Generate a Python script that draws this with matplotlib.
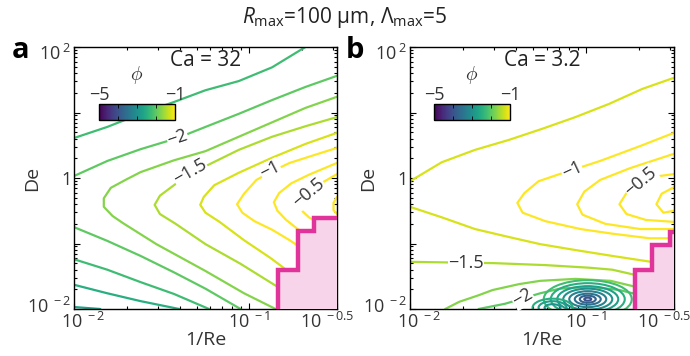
import numpy as np
import matplotlib
matplotlib.use("Agg")
import matplotlib.pyplot as plt
from matplotlib import ticker, colors, transforms
from matplotlib.collections import EllipseCollection
from matplotlib.cm import ScalarMappable

plt.rcParams['font.family'] = ['Open Sans', 'DejaVu Sans']
plt.rcParams['mathtext.fontset'] = 'custom'
plt.rcParams['mathtext.rm'] = 'Open Sans'
plt.rcParams['mathtext.it'] = 'Open Sans:italic'
plt.rcParams['mathtext.bf'] = 'Open Sans:bold'

# ---- contour lines, as log10(1/Re), log10(De) ----
# panel a (Ca = 32)
a_m275 = (-2.75, [-2.00, -1.85], [-1.97, -2.00])
a_m250 = (-2.50, [-2.00, -1.81, -1.62, -1.40], [-1.63, -1.76, -1.88, -2.00])
a_m225_up = (-2.25, [-2.00, -1.81, -1.62, -1.43, -1.25, -1.06, -0.87, -0.68],
             [0.61, 0.78, 0.98, 1.16, 1.34, 1.48, 1.69, 2.00])
a_m225_lo = (-2.25, [-2.00, -1.81, -1.62, -1.43, -1.23], [-1.24, -1.40, -1.59, -1.77, -2.00])
a_m200_up = (-2.00, [-2.00, -1.81, -1.62, -1.41, -1.25, -1.06, -0.87, -0.68, -0.50],
             [0.03, 0.26, 0.44, 0.61, 0.78, 0.98, 1.19, 1.39, 1.56])
a_m200_lo = (-2.00, [-2.00, -1.81, -1.62, -1.43, -1.25, -1.05], [-0.75, -0.96, -1.19, -1.44, -1.69, -2.00])
a_m175 = (-1.75, [-0.50, -0.68, -0.87, -1.06, -1.25, -1.43, -1.62, -1.70, -1.79, -1.83, -1.83, -1.78,
                  -1.72, -1.53, -1.25, -1.03, -0.85],
          [1.24, 1.07, 0.85, 0.63, 0.41, 0.27, 0.09, -0.02, -0.15, -0.31, -0.44, -0.58,
           -0.69, -1.01, -1.42, -1.76, -2.00])
a_m150 = (-1.50, [-0.50, -0.68, -0.87, -1.06, -1.25, -1.33, -1.42, -1.51, -1.54, -1.51, -1.42, -1.25,
                  -1.05, -0.84],
          [0.93, 0.79, 0.63, 0.43, 0.18, 0.08, -0.09, -0.27, -0.41, -0.55, -0.70, -1.01, -1.31, -1.66])
a_m125 = (-1.25, [-0.50, -0.68, -0.87, -1.06, -1.20, -1.26, -1.28, -1.25, -1.17, -1.03, -0.88, -0.79],
          [0.69, 0.52, 0.31, 0.08, -0.11, -0.29, -0.41, -0.53, -0.67, -0.95, -1.22, -1.40])
a_m100 = (-1.00, [-0.50, -0.63, -0.77, -0.88, -0.96, -1.03, -1.07, -1.04, -0.97, -0.87, -0.77, -0.72],
          [0.46, 0.35, 0.23, 0.09, -0.03, -0.24, -0.40, -0.53, -0.66, -0.79, -0.95, -1.04])
a_m075 = (-0.75, [-0.50, -0.66, -0.76, -0.83, -0.86, -0.84, -0.79, -0.71],
          [0.23, 0.05, -0.08, -0.23, -0.37, -0.50, -0.64, -0.81])
a_m050 = (-0.50, [-0.50, -0.59, -0.66, -0.71, -0.70, -0.66, -0.63],
          [0.06, -0.08, -0.23, -0.38, -0.50, -0.60, -0.65])
a_m025 = (-0.25, [-0.50, -0.52, -0.52, -0.50], [-0.29, -0.38, -0.49, -0.55])
a_lines = [a_m275, a_m250, a_m225_up, a_m225_lo, a_m200_up, a_m200_lo, a_m175,
           a_m150, a_m125, a_m100, a_m075, a_m050, a_m025]
a_labels = [("−2", -1.41, 0.61, 19), ("−1.5", -1.34, 0.10, 30),
            ("−1", -0.88, 0.12, 27), ("−0.5", -0.66, -0.23, 40)]

# panel b (Ca = 3.2)
b_m125_up = (-1.25, [-2.00, -1.82, -1.63, -1.44, -1.25, -1.06, -0.87, -0.68, -0.50],
             [-0.05, 0.24, 0.43, 0.58, 0.75, 0.93, 1.13, 1.36, 1.53])
b_m125_lo = (-1.25, [-2.00, -1.82, -1.63, -1.44, -1.26, -1.06, -0.85, -0.63],
             [-0.44, -0.60, -0.78, -0.90, -1.01, -1.10, -1.19, -1.28])
b_m150 = (-1.50, [-2.00, -1.52, -1.23, -0.98, -0.85, -0.72], [-1.28, -1.30, -1.33, -1.37, -1.40, -1.48])
b_m175 = (-1.75, [-1.80, -1.72, -1.61, -1.53, -1.38, -1.26, -1.06, -0.86, -0.72],
          [-2.00, -1.89, -1.79, -1.71, -1.62, -1.57, -1.54, -1.57, -1.66])
b_m200 = (-2.00, [-1.61, -1.46, -1.26, -1.15, -0.98, -0.81, -0.72],
          [-2.00, -1.92, -1.76, -1.69, -1.66, -1.71, -1.77])
b_m100 = (-1.00, [-0.50, -0.69, -0.92, -1.08, -1.15, -1.27, -1.35, -1.39, -1.36, -1.23, -1.03, -0.85,
                  -0.64, -0.52],
          [0.69, 0.49, 0.26, 0.12, 0.06, -0.05, -0.23, -0.38, -0.53, -0.66, -0.78, -0.85, -0.92, -0.92])
b_m075 = (-0.75, [-0.50, -0.75, -0.92, -1.01, -1.05, -1.02, -0.89, -0.69, -0.50],
          [0.37, 0.15, -0.03, -0.21, -0.40, -0.56, -0.70, -0.78, -0.78])
b_m050 = (-0.50, [-0.50, -0.61, -0.69, -0.77, -0.81, -0.77, -0.66, -0.50],
          [0.06, 0.02, -0.05, -0.23, -0.40, -0.55, -0.64, -0.67])
b_m025 = (-0.25, [-0.50, -0.57, -0.60, -0.56, -0.50], [-0.14, -0.24, -0.40, -0.53, -0.50])
b_lines = [b_m125_up, b_m125_lo, b_m150, b_m175, b_m200, b_m100, b_m075, b_m050, b_m025]
b_labels = [("−1.5", -1.68, -1.30, 0), ("−2", -1.36, -1.83, 30),
            ("−1", -1.08, 0.12, 25), ("−0.5", -0.69, -0.05, 40)]

# closed loops of the low-phi pocket in panel b: centre (log10), size (px), level
b_loop_lx = [-0.99] * 8 + [-1.19] * 3
b_loop_ly = [-1.85] * 8 + [-1.98] * 3
b_loop_w = [88, 74, 61, 49, 37, 26, 16, 7, 40, 28, 16]
b_loop_h = [38, 32, 26, 21, 16, 11, 7, 3, 18, 13, 7]
b_loop_lev = [-2.25, -2.5, -2.75, -3.0, -3.25, -3.5, -3.75, -4.0, -2.5, -2.75, -3.0]

# excluded (pink) staircase corners, actual 1/Re and De values
a_step_x = [0.145, 0.19, 0.235]
a_step_y = [0.04, 0.155, 0.245]
b_step_x = [0.19, 0.237, 0.30]
b_step_y = [0.04, 0.095, 0.15]

cmap = plt.get_cmap('viridis')
norm = colors.Normalize(vmin=-5, vmax=-1)
XMIN, XMAX, YMIN, YMAX = 1e-2, 10 ** -0.5, 1e-2, 1e2


def nudge(label, dx, dy, fig):
    label.set_transform(label.get_transform() +
                        transforms.ScaledTranslation(dx / 100, dy / 100, fig.dpi_scale_trans))


def style_axes(ax):
    ax.set_xscale('log')
    ax.set_yscale('log')
    ax.set_xlim(XMIN, XMAX)
    ax.set_ylim(YMIN, YMAX)
    ax.xaxis.set_major_locator(ticker.FixedLocator([1e-2, 1e-1, 10 ** -0.5]))
    ax.xaxis.set_major_formatter(ticker.FixedFormatter(
        [r'$10^{\;-2}$', r'$10^{\;-1}$', r'$10^{\;-0.5}$']))
    ax.xaxis.set_minor_locator(ticker.LogLocator(base=10, subs=np.arange(2, 10)))
    ax.xaxis.set_minor_formatter(ticker.NullFormatter())
    ax.yaxis.set_major_locator(ticker.FixedLocator([1e-2, 1e-1, 1, 10, 100]))
    ax.yaxis.set_major_formatter(ticker.FixedFormatter(
        [r'$10^{\;-2}$', '', '1', '', r'$10^{\;2}$']))
    ax.yaxis.set_minor_locator(ticker.LogLocator(base=10, subs=np.arange(2, 10)))
    ax.yaxis.set_minor_formatter(ticker.NullFormatter())
    ax.tick_params(which='both', direction='in', top=True, right=True, width=0.8,
                   labelsize=13, pad=2, labelcolor='#333333')
    ax.tick_params(which='major', length=4)
    ax.tick_params(which='minor', length=2)
    for s in ax.spines.values():
        s.set_linewidth(1.0)
    ax.set_xlabel('1/Re', fontsize=14, color='#333333')
    ax.set_ylabel('De', fontsize=14, color='#333333')
    ax.xaxis.set_label_coords(0.5, -0.085)
    ax.yaxis.set_label_coords(-0.125, 0.5)
    # edge tick labels sit inside the frame extent, as in the original
    xt = ax.xaxis.get_major_ticks()
    nudge(xt[0].label1, 9, 0, ax.figure)
    nudge(xt[-1].label1, -10, 0, ax.figure)
    yt = ax.yaxis.get_major_ticks()
    nudge(yt[0].label1, 0, 4, ax.figure)
    nudge(yt[-1].label1, 0, -5, ax.figure)


def draw_panel(ax, lines, labels, step_x, step_y, title):
    for lev, lx, ly in lines:
        ax.plot(10 ** np.array(lx), 10 ** np.array(ly), color=cmap(norm(lev)), lw=1.6,
                solid_capstyle='round', solid_joinstyle='round', zorder=2)
    for txt, lx, ly, rot in labels:
        ax.text(10 ** lx, 10 ** ly, txt, rotation=rot, ha='center', va='center',
                fontsize=13, color='#333333', zorder=3,
                bbox=dict(facecolor='white', edgecolor='none', pad=0.3))
    sx = [step_x[0], step_x[0], step_x[1], step_x[1], step_x[2], step_x[2], XMAX]
    sy = [YMIN, step_y[0], step_y[0], step_y[1], step_y[1], step_y[2], step_y[2]]
    ax.fill(sx + [XMAX], sy + [YMIN], facecolor='#f7d4e9', edgecolor='none', zorder=4)
    ax.plot(sx, sy, color='#e0349b', lw=3.2, solid_joinstyle='miter', zorder=5)
    ax.text(0.5, 0.95, title, transform=ax.transAxes, ha='center', va='center',
            fontsize=15, color='#222222', zorder=6)
    style_axes(ax)


fig = plt.figure(figsize=(6.9, 3.56), dpi=100)
ax_a = fig.add_axes([74 / 690, 47 / 356, 263 / 690, 262 / 356])
ax_b = fig.add_axes([410 / 690, 47 / 356, 264 / 690, 262 / 356])

draw_panel(ax_a, a_lines, a_labels, a_step_x, a_step_y, 'Ca = 32')
draw_panel(ax_b, b_lines, b_labels, b_step_x, b_step_y, 'Ca = 3.2')

loops = EllipseCollection(b_loop_w, b_loop_h, np.zeros(len(b_loop_w)), units='dots',
                          offsets=np.column_stack([10 ** np.array(b_loop_lx), 10 ** np.array(b_loop_ly)]),
                          offset_transform=ax_b.transData, facecolors='none',
                          edgecolors=[cmap(norm(v)) for v in b_loop_lev], linewidths=1.5, zorder=2)
ax_b.add_collection(loops)

# inset colorbars
for left in (99, 434):
    cax = fig.add_axes([left / 690, (356 - 120) / 356, 76 / 690, 16 / 356])
    cb = fig.colorbar(ScalarMappable(norm=norm, cmap=cmap), cax=cax, orientation='horizontal')
    cb.set_ticks([-5, -4, -3, -2, -1])
    cb.set_ticklabels(['−5', '', '', '', '−1'])
    cax.xaxis.set_ticks_position('both')
    cax.tick_params(which='both', direction='in', length=3, width=0.6, labelsize=13,
                    labeltop=True, labelbottom=False, pad=0, labelcolor='#333333')
    cb.outline.set_linewidth(1.0)
    cax.set_title(r'$\phi$', fontsize=14, pad=-2, color='#333333')

fig.text(12 / 690, 1 - 50 / 356, 'a', fontsize=21, fontweight='bold', ha='left', va='center')
fig.text(346 / 690, 1 - 50 / 356, 'b', fontsize=21, fontweight='bold', ha='left', va='center')
fig.text(0.5, 1 - 18 / 356, r'$R_{\mathrm{max}}$=100 μm, $\Lambda_{\mathrm{max}}$=5',
         ha='center', va='center', fontsize=15, color='#222222')

fig.savefig('out.png', dpi=100)
